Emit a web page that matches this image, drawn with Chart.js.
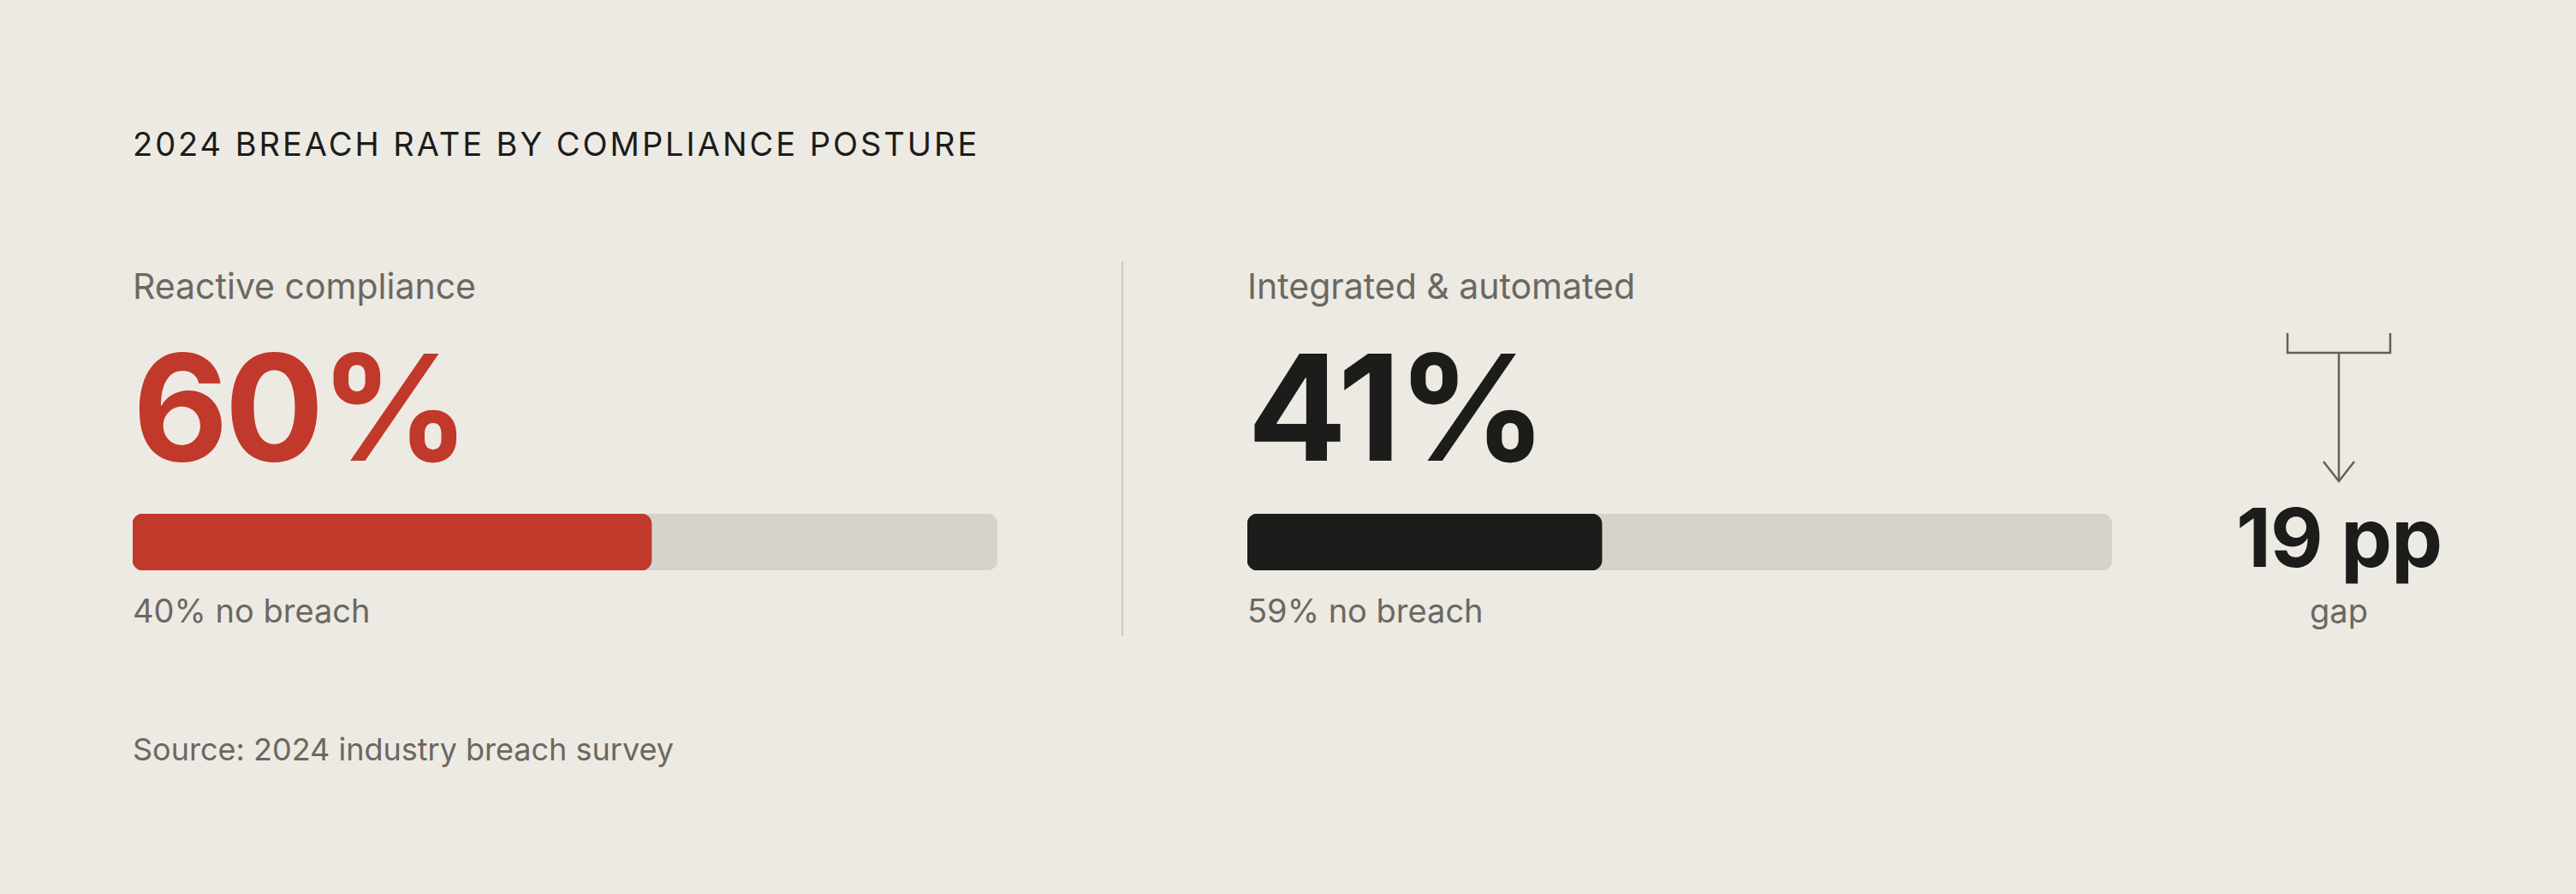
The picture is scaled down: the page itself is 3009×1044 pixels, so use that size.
<!DOCTYPE html>
<html>
<head>
<meta charset="utf-8">
<script src="https://cdn.jsdelivr.net/npm/chart.js@4.4.1/dist/chart.umd.min.js"></script>
<style>
  html, body { margin: 0; padding: 0; }
  body { width: 3009px; height: 1044px; background: #edeae3; position: relative; overflow: hidden; font-family: Inter, "Noto Sans", sans-serif; }
  .t { position: absolute; white-space: nowrap; line-height: 1; }
  .title { left: 155px; top: 149px; font-size: 38px; letter-spacing: 0.078em; color: #1c1c1a; font-weight: 400; }
  .panel-label { top: 314px; font-size: 41px; color: #6b6862; font-weight: 400; }
  .big { top: 389px; font-size: 172px; font-weight: 700; letter-spacing: -0.025em; }
  .sub { top: 694px; font-size: 38px; color: #6b6862; }
  .source { left: 155px; top: 857px; font-size: 36px; color: #6b6862; }
  .gap-num { top: 580px; font-size: 95px; font-weight: 700; color: #1c1c1a; transform: translateX(-50%); letter-spacing: -0.01em; }
  .gap-lbl { top: 694px; font-size: 38px; color: #6b6862; transform: translateX(-50%); }
  .bar { position: absolute; top: 600px; width: 1010px; height: 66px; }
  .divider { position: absolute; left: 1310px; top: 305px; width: 2px; height: 438px; background: #cdc9c1; }
  svg { position: absolute; left: 0; top: 0; }
</style>
</head>
<body>
<script>
// ---- data ----
const panelNames = ["Reactive compliance", "Integrated & automated"];
const breachRates = [60, 41];
const noBreachRates = [40, 59];
const gapPoints = 19;
const titleText = "2024 BREACH RATE BY COMPLIANCE POSTURE";
const sourceText = "Source: 2024 industry breach survey";
const barColors = ["#c0392b", "#1c1c1a"];
const trackColor = "#d6d3cc";
const panelLefts = [155, 1457];

function addText(cls, text, left, color) {
  const d = document.createElement("div");
  d.className = "t " + cls;
  d.textContent = text;
  if (left !== undefined) d.style.left = left + "px";
  if (color) d.style.color = color;
  document.body.appendChild(d);
  return d;
}

addText("title", titleText);
addText("source", sourceText);

const div = document.createElement("div");
div.className = "divider";
document.body.appendChild(div);

panelNames.forEach((name, i) => {
  const left = panelLefts[i];
  addText("panel-label", name, left);
  addText("big", breachRates[i] + "%", left, barColors[i]);
  addText("sub", noBreachRates[i] + "% no breach", left);

  const wrap = document.createElement("div");
  wrap.className = "bar";
  wrap.style.left = left + "px";
  const cv = document.createElement("canvas");
  cv.width = 1010; cv.height = 66;
  cv.style.width = "1010px"; cv.style.height = "66px";
  wrap.appendChild(cv);
  document.body.appendChild(wrap);

  new Chart(cv.getContext("2d"), {
    type: "bar",
    data: {
      labels: [name],
      datasets: [
        { label: "breach", data: [breachRates[i]], backgroundColor: barColors[i],
          borderRadius: 12, borderSkipped: false, grouped: false, order: 0,
          barPercentage: 1, categoryPercentage: 1 },
        { label: "track", data: [breachRates[i] + noBreachRates[i]], backgroundColor: trackColor,
          borderRadius: 12, borderSkipped: false, grouped: false, order: 1,
          barPercentage: 1, categoryPercentage: 1 }
      ]
    },
    options: {
      indexAxis: "y",
      responsive: false,
      devicePixelRatio: 1,
      animation: false,
      events: [],
      layout: { padding: 0 },
      plugins: { legend: { display: false }, tooltip: { enabled: false } },
      scales: {
        x: { display: false, min: 0, max: 100 },
        y: { display: false }
      }
    }
  });
});

// gap annotation
const gx = 2732;
addText("gap-num", gapPoints + " pp", gx);
addText("gap-lbl", "gap", gx);

const svgNS = "http://www.w3.org/2000/svg";
const svg = document.createElementNS(svgNS, "svg");
svg.setAttribute("width", "3009");
svg.setAttribute("height", "1044");
svg.innerHTML =
  '<g fill="none" stroke="#64615c" stroke-width="2.5">' +
  '<polyline points="2672,389 2672,412 2792,412 2792,389"/>' +
  '<line x1="2732" y1="412" x2="2732" y2="562"/>' +
  '<polyline points="2714,539 2732,562 2750,539"/>' +
  '</g>';
document.body.appendChild(svg);
</script>
</body>
</html>
